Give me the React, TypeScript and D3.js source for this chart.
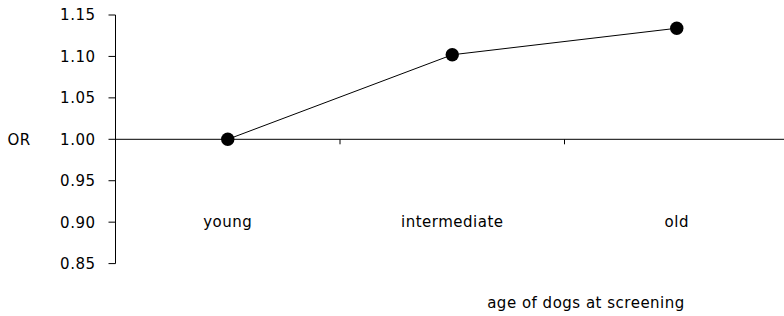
import { useEffect, useRef } from "react"
import * as d3 from "d3"

const WIDTH = 784
const HEIGHT = 316

// odds ratio by age group
const categories = ["young", "intermediate", "old"]
const orValues = [1.0, 1.102, 1.134]
const yTicks = [0.85, 0.9, 0.95, 1.0, 1.05, 1.1, 1.15]

const FONT = "'DejaVu Sans', Verdana, sans-serif"

export default function App() {
  const svgRef = useRef<SVGSVGElement | null>(null)

  useEffect(() => {
    if (!svgRef.current) return
    const svg = d3.select(svgRef.current)
    svg.selectAll("*").remove()

    const axisX = 115.5
    const x = d3.scaleBand<string>().domain(categories).range([axisX, axisX + 3 * 224.5])
    const y = d3.scaleLinear().domain([0.85, 1.15]).range([263.6, 15])

    const g = svg
      .append("g")
      .style("font-family", FONT)
      .style("font-size", "15px")
      .style("letter-spacing", "0.5px")

    // y axis
    g.append("line")
      .attr("x1", axisX)
      .attr("x2", axisX)
      .attr("y1", y(1.15))
      .attr("y2", y(0.85))
      .attr("stroke", "#000")
    const yt = g.selectAll(".ytick").data(yTicks).join("g").attr("class", "ytick")
    yt.append("line")
      .attr("x1", axisX - 7)
      .attr("x2", axisX)
      .attr("y1", (d) => y(d))
      .attr("y2", (d) => y(d))
      .attr("stroke", "#000")
    yt.append("text")
      .attr("x", axisX - 20)
      .attr("y", (d) => y(d))
      .attr("dy", "0.36em")
      .attr("text-anchor", "end")
      .attr("fill", "#000")
      .text((d) => d3.format(".2f")(d))

    // x axis sits at OR = 1
    const y0 = y(1.0)
    g.append("line")
      .attr("x1", axisX)
      .attr("x2", WIDTH)
      .attr("y1", y0)
      .attr("y2", y0)
      .attr("stroke", "#000")
    g.selectAll(".xtick")
      .data(categories.slice(1))
      .join("line")
      .attr("class", "xtick")
      .attr("x1", (d) => x(d)!)
      .attr("x2", (d) => x(d)!)
      .attr("y1", y0)
      .attr("y2", y0 + 5)
      .attr("stroke", "#000")

    g.selectAll(".xlabel")
      .data(categories)
      .join("text")
      .attr("class", "xlabel")
      .attr("x", (d) => x(d)! + x.bandwidth() / 2)
      .attr("y", y(0.9))
      .attr("dy", "0.3em")
      .attr("text-anchor", "middle")
      .attr("fill", "#000")
      .text((d) => d)

    g.append("text")
      .attr("x", 19)
      .attr("y", y0)
      .attr("dy", "0.36em")
      .attr("text-anchor", "middle")
      .attr("fill", "#000")
      .text("OR")

    g.append("text")
      .attr("x", 586)
      .attr("y", 308)
      .attr("text-anchor", "middle")
      .attr("fill", "#000")
      .text("age of dogs at screening")

    const pts = categories.map((c, i) => ({ c, v: orValues[i] }))
    const line = d3
      .line<{ c: string; v: number }>()
      .x((d) => x(d.c)! + x.bandwidth() / 2)
      .y((d) => y(d.v))

    g.append("path").datum(pts).attr("d", line).attr("fill", "none").attr("stroke", "#000").attr("stroke-width", 1)

    g.selectAll(".pt")
      .data(pts)
      .join("circle")
      .attr("class", "pt")
      .attr("cx", (d) => x(d.c)! + x.bandwidth() / 2)
      .attr("cy", (d) => y(d.v))
      .attr("r", 6.7)
      .attr("fill", "#000")
  }, [])

  return (
    <svg
      ref={svgRef}
      width={WIDTH}
      height={HEIGHT}
      style={{ position: "absolute", left: 0, top: 0, background: "#fff" }}
    ></svg>
  )
}
